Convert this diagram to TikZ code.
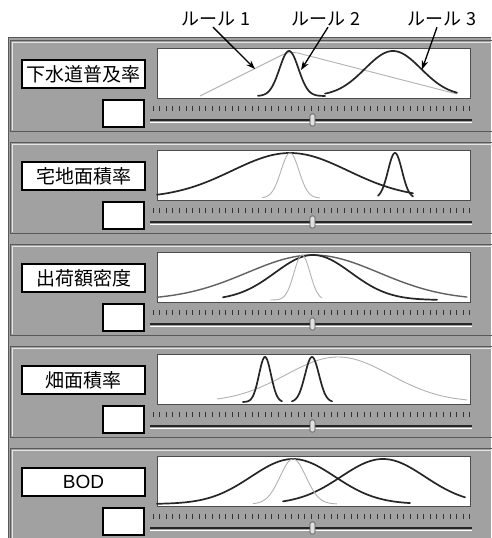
\documentclass[tikz,border=0pt]{standalone}
\usepackage{fontspec}
\newfontfamily\jp{Noto Sans CJK JP}
\newfontfamily\lsans{Liberation Sans}
\usetikzlibrary{arrows.meta}
\newcommand\gausscurve[5][]{%
  \draw[#1] plot[domain=#4:#5, samples=90, smooth] (\x,{56-45*exp(-0.5*((\x-#2)/#3)*((\x-#2)/#3))});}
\tikzset{
  panelgray/.style={fill=black!37},
  paneledge/.style={draw=black!65, line width=0.8pt},
  panellight/.style={draw=white!90!black, line width=0.6pt},
  plotbox/.style={fill=white, draw=black!70, line width=0.8pt},
  labelbox/.style={draw=black, line width=1.1pt, fill=white, minimum width=123pt, minimum height=28pt, inner sep=0pt, font=\fontsize{19}{19}\selectfont},
  valbox/.style={draw=black, line width=1.1pt, fill=white, minimum width=41pt, minimum height=27pt, inner sep=0pt},
  ticklet/.style={draw=black!80, line width=0.9pt},
  sliderline/.style={draw=black!85, line width=1.6pt},
  thumb/.style={fill=black!12, draw=black!70, line width=0.6pt, rounded corners=1.5pt},
  darkc/.style={draw=black!85, line width=1.7pt, line join=round, line cap=round},
  medc/.style={draw=black!62, line width=1.4pt, line join=round, line cap=round},
  lightc/.style={draw=black!30, line width=0.9pt, line join=round},
  rulelab/.style={font=\jp\fontsize{18}{18}\selectfont, inner sep=1pt},
  arr/.style={draw=black, line width=1.3pt, -{Stealth[length=9pt,width=6.5pt]}}
}
\begin{document}
\begin{tikzpicture}[x=1pt,y=-1pt]
\useasboundingbox (0,0) rectangle (491,538);
% window background
\fill[panelgray] (8,37) rectangle (491,538);
\draw[paneledge] (8.4,538) -- (8.4,37.4) -- (491,37.4);
% panels
\foreach \k/\T/\txt in {1/40/{\jp 下水道普及率}, 2/142/{\jp 宅地面積率}, 3/244/{\jp 出荷額密度}, 4/346/{\jp 畑面積率}, 5/448/{\lsans BOD}}{
  \begin{scope}[shift={(0,\T)}]
    \draw[paneledge] (495,0.5) -- (10.5,0.5) -- (10.5,91.5) -- (495,91.5);
    \draw[panellight] (495,1.8) -- (11.8,1.8) -- (11.8,90.2);
    \draw[plotbox] (157,8) rectangle (470,58);
    \node[labelbox] (lab\k) at (83.5,34) {\txt};
    \node[valbox] (val\k) at (123.5,73.5) {};
    \foreach \j in {0,...,48} \draw[ticklet] ({153+\j*6.6},66) -- ++(0,4.5);
    \draw[sliderline] (150,80) -- (472,80);
    \draw[white, line width=0.7pt] (150,82.3) -- (472,82.3);
    \draw[thumb] (310,74) rectangle (315,86);
  \end{scope}
}
% panel 1 curves
\begin{scope}[shift={(0,40)}]
  \draw[lightc, rounded corners=8pt] (200,56) -- (290,11) -- (457,54);
  \gausscurve[darkc]{289}{9.5}{258}{325}
  \gausscurve[darkc]{393}{28}{325}{457}
\end{scope}
% panel 2 curves
\begin{scope}[shift={(0,142)}]
  \gausscurve[darkc]{290}{58}{157}{413}
  \gausscurve[lightc]{290}{9}{262}{320}
  \gausscurve[darkc]{395}{7}{378}{413}
\end{scope}
% panel 3 curves
\begin{scope}[shift={(0,244)}]
  \gausscurve[medc]{313}{66}{157}{467}
  \gausscurve[darkc]{313}{38}{223}{437}
  \gausscurve[lightc]{302}{8}{270}{322}
\end{scope}
% panel 4 curves
\begin{scope}[shift={(0,346)}]
  \gausscurve[lightc]{338}{52}{217}{467}
  \gausscurve[darkc]{265}{6}{243}{282}
  \gausscurve[darkc]{312}{7}{292}{332}
\end{scope}
% panel 5 curves
\begin{scope}[shift={(0,448)}]
  \gausscurve[darkc]{293}{42}{157}{410}
  \gausscurve[darkc]{383}{42}{283}{465}
  \gausscurve[lightc]{293}{13}{253}{337}
\end{scope}
% rule labels and arrows
\node[rulelab] (r1) at (216,19) {ルール 1};
\node[rulelab] (r2) at (326,19) {ルール 2};
\node[rulelab] (r3) at (442,19) {ルール 3};
\coordinate (a1) at (255,69);
\coordinate (a2) at (301,70);
\coordinate (a3) at (422,69.5);
\draw[arr] ([xshift=-3pt]r1.south) -- (a1);
\draw[arr] ([xshift=2pt]r2.south) -- (a2);
\draw[arr] ([xshift=-5pt]r3.south) -- (a3);
\end{tikzpicture}
\end{document}
